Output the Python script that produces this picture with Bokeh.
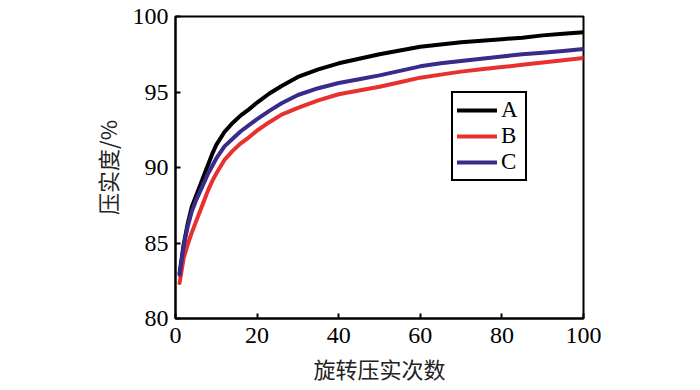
from bokeh.plotting import figure
from bokeh.models import Range1d, FixedTicker, Legend, LegendItem
from bokeh.embed import file_html
from bokeh.resources import INLINE

x_vals = [1, 2, 3, 4, 5, 6, 7, 8, 9, 10, 12, 14, 16, 18, 20, 23, 26, 30, 35, 40,
          45, 50, 55, 60, 65, 70, 75, 80, 85, 90, 95, 100]
series_a = [83.0, 84.9, 86.3, 87.4, 88.1, 88.8, 89.5, 90.2, 90.9, 91.5, 92.35, 92.95,
            93.45, 93.85, 94.3, 94.9, 95.4, 96.0, 96.5, 96.9, 97.2, 97.5, 97.75, 98.0,
            98.15, 98.3, 98.4, 98.5, 98.6, 98.75, 98.85, 98.95]
series_b = [82.35, 84.0, 84.9, 85.7, 86.4, 87.1, 87.8, 88.5, 89.1, 89.6, 90.5, 91.1,
            91.6, 92.0, 92.45, 93.0, 93.5, 93.95, 94.45, 94.85, 95.1, 95.35, 95.65, 95.95,
            96.15, 96.35, 96.5, 96.65, 96.8, 96.95, 97.1, 97.25]
series_c = [82.9, 84.8, 86.1, 87.1, 87.8, 88.4, 89.0, 89.6, 90.1, 90.6, 91.4, 91.9,
            92.4, 92.8, 93.2, 93.75, 94.25, 94.8, 95.25, 95.6, 95.85, 96.1, 96.4, 96.7,
            96.9, 97.05, 97.2, 97.35, 97.5, 97.6, 97.72, 97.85]
names = ["A", "B", "C"]
colors = ["#000000", "#e8312f", "#3a2a8c"]
x_ticks = [0, 20, 40, 60, 80, 100]
y_ticks = [80, 85, 90, 95, 100]
x_label = "旋转压实次数"
y_label = "压实度/%"

W, H = 700, 390
p = figure(width=W, height=H, output_backend="svg", toolbar_location=None,
           x_range=Range1d(0, 100), y_range=Range1d(80, 100),
           min_border_left=175, min_border_right=W - 583,
           min_border_top=16, min_border_bottom=H - 318)
p.xgrid.visible = False
p.ygrid.visible = False
p.outline_line_color = "black"
p.outline_line_width = 2
p.background_fill_color = "white"
p.border_fill_color = "white"

serif = "Liberation Serif"
cjk = "Noto Sans CJK SC"
for ax, ticks in ((p.xaxis[0], x_ticks), (p.yaxis[0], y_ticks)):
    ax.ticker = FixedTicker(ticks=ticks)
    ax.axis_line_width = 2
    ax.axis_line_color = "black"
    ax.major_tick_in = 5
    ax.major_tick_out = 0
    ax.major_tick_line_width = 2
    ax.minor_tick_line_color = None
    ax.major_label_text_font = serif
    ax.major_label_text_font_size = "24px"
    ax.major_label_text_color = "black"
    ax.axis_label_text_font = cjk
    ax.axis_label_text_font_size = "22px"
    ax.axis_label_text_font_style = "normal"
    ax.axis_label_text_color = "#222222"

p.xaxis.axis_label = x_label
p.yaxis.axis_label = y_label
p.xaxis.major_label_standoff = 9
p.yaxis.major_label_standoff = 7
p.xaxis.axis_label_standoff = 6
p.yaxis.axis_label_standoff = 7

items = []
for name, ys, col in zip(names, [series_a, series_b, series_c], colors):
    r = p.line(x_vals, ys, line_color=col, line_width=4, line_join="round", line_cap="round")
    items.append(LegendItem(label=name, renderers=[r]))

legend = Legend(items=items, location=(276, 137))
legend.border_line_color = "black"
legend.border_line_alpha = 1
legend.border_line_width = 2
legend.background_fill_alpha = 1
legend.label_text_font = serif
legend.label_text_font_size = "23px"
legend.label_text_color = "black"
legend.glyph_width = 40
legend.glyph_height = 24
legend.label_height = 24
legend.label_standoff = 4
legend.spacing = -1
legend.padding = 4
legend.margin = 0
p.add_layout(legend, "center")

open("out.html", "w").write(file_html(p, INLINE))
